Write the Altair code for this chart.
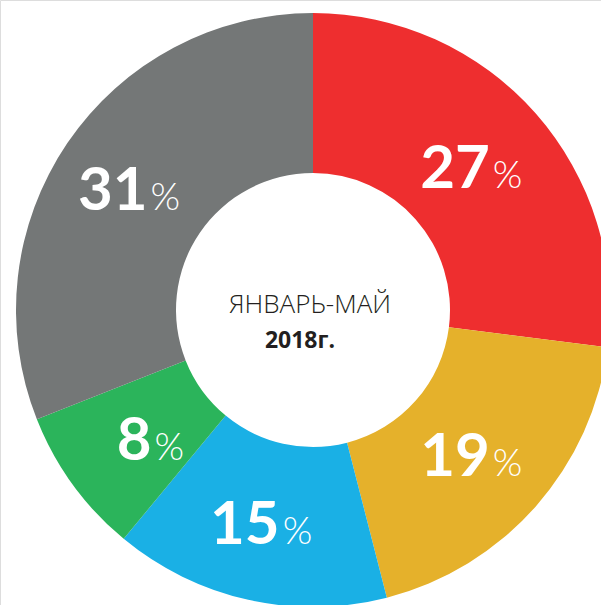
import altair as alt
import pandas as pd

categories = ["c1", "c2", "c3", "c4", "c5"]
values = [27, 19, 15, 8, 31]
colors = ["#EE2E2F", "#E5B12B", "#1AB0E5", "#2BB45B", "#747777"]
order = [0, 1, 2, 3, 4]
center_line1 = "ЯНВАРЬ-МАЙ"
center_line2 = "2018г."

df = pd.DataFrame({
    "cat": categories,
    "value": values,
    "order": order,
    "num": [str(v) for v in values],
    "pct": ["%"] * len(values),
})

cx, cy = 313, 310

base = alt.Chart(df).encode(
    theta=alt.Theta("value:Q", stack=True),
    order=alt.Order("order:Q"),
    x=alt.value(cx),
    y=alt.value(cy),
)

arc = base.mark_arc(radius=297, radius2=137).encode(
    color=alt.Color("cat:N", scale=alt.Scale(domain=categories, range=colors), legend=None)
)

num = base.mark_text(
    radius=217, font="Lato", fontWeight="bold", fontSize=60, color="white",
    align="right", baseline="alphabetic", dx=14, dy=22
).encode(text="num:N")

pct = base.mark_text(
    radius=217, font="Lato", fontWeight=300, fontSize=38, color="white",
    align="left", baseline="alphabetic", dx=17, dy=22
).encode(text="pct:N")

t1 = alt.Chart(pd.DataFrame({"t": [center_line1]})).mark_text(
    font="Open Sans", fontWeight=300, fontSize=26, color="#231F20",
    align="center", baseline="alphabetic"
).encode(text="t:N", x=alt.value(310), y=alt.value(313))

t2 = alt.Chart(pd.DataFrame({"t": [center_line2]})).mark_text(
    font="Open Sans", fontWeight="bold", fontSize=23, color="#231F20",
    align="center", baseline="alphabetic"
).encode(text="t:N", x=alt.value(300), y=alt.value(348))

chart = alt.layer(arc, num, pct, t1, t2).properties(
    width=601, height=605, padding=0,
    autosize=alt.AutoSizeParams(type="none"),
).configure_view(stroke=None).configure(background="white")

chart.save("out.html", embed_options={"renderer": "svg", "actions": False})
